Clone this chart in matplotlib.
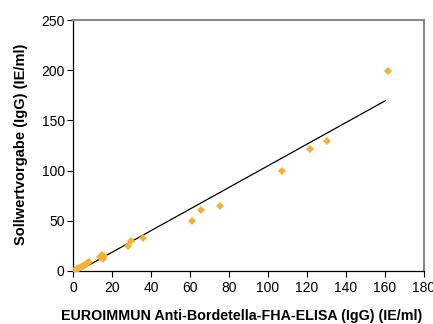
import matplotlib
matplotlib.use("Agg")
import matplotlib.pyplot as plt
import numpy as np

# Data
x_vals = [1, 2, 3, 4, 5, 6, 7, 8, 14, 15, 16, 15.5, 28, 29.5, 36, 61, 65.5, 75.5, 107, 121.5, 130.5, 161.5]
y_vals = [0.5, 1.5, 3, 4, 5, 6, 7.5, 8.5, 14, 16, 15, 12, 24.5, 30, 32.5, 50, 60.5, 65, 100, 121.5, 129.5, 199.5]
fit_x_range = [2.7, 160.2]
fit_slope = 1.077
fit_intercept = -2.9
x_ticks = [0, 20, 40, 60, 80, 100, 120, 140, 160, 180]
y_ticks = [0, 50, 100, 150, 200, 250]
x_label = "EUROIMMUN Anti-Bordetella-FHA-ELISA (IgG) (IE/ml)"
y_label = "Sollwertvorgabe (IgG) (IE/ml)"

plt.rcParams['font.family'] = ['Liberation Sans', 'DejaVu Sans']

fig = plt.figure(figsize=(4.33, 3.24), dpi=100)
ax = fig.add_axes([73/433, 1 - 271/324, (424-73)/433, (271-20)/324])

fx = np.array(fit_x_range)
ax.plot(fx, fit_slope * fx + fit_intercept, color='black', lw=0.9, zorder=2)
ax.plot(x_vals, y_vals, linestyle='none', marker='D', markersize=4.4,
        color='#F2B233', markeredgewidth=0, zorder=3)

ax.set_xlim(0, 180)
ax.set_ylim(0, 250)
ax.set_xticks(x_ticks)
ax.set_yticks(y_ticks)
ax.tick_params(axis='both', direction='out', length=4, width=0.8, labelsize=10,
               colors='black', pad=2)
ax.tick_params(axis='x', pad=3)
for s in ['left', 'bottom']:
    ax.spines[s].set_color('black')
    ax.spines[s].set_linewidth(0.9)
for s in ['top', 'right']:
    ax.spines[s].set_color('#888888')
    ax.spines[s].set_linewidth(1.5)

fig.text(242/433, 1 - 316/324, x_label, ha='center', va='center',
         fontsize=10.3, fontweight='bold')
fig.text(21/433, 1 - 144/324, y_label, ha='center', va='center',
         rotation=90, fontsize=10.5, fontweight='bold')

fig.savefig("out.png", dpi=100)
